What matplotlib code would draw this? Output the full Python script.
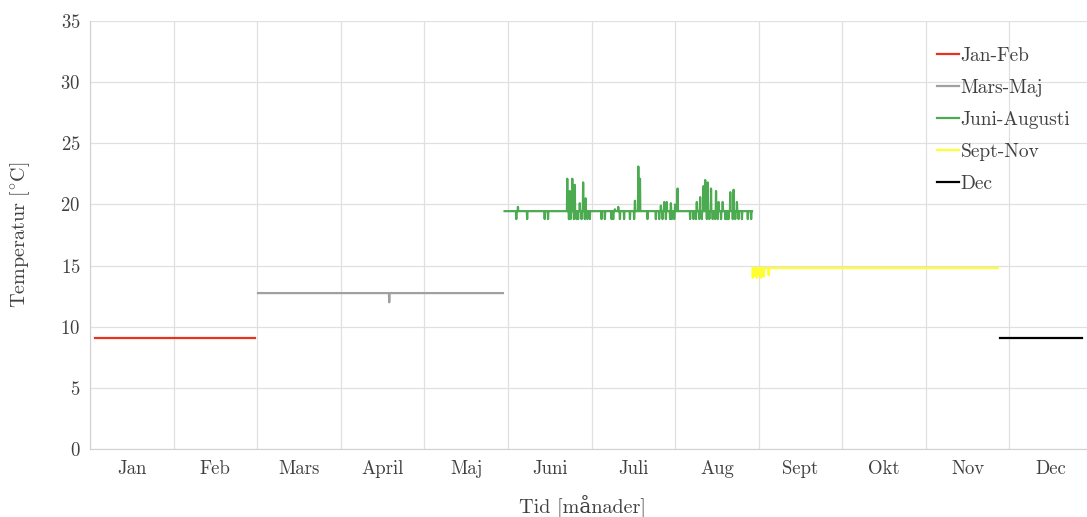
import numpy as np
import matplotlib
matplotlib.use('Agg')
import matplotlib.pyplot as plt

plt.rcParams['font.family'] = ['cmr10', 'DejaVu Serif']
plt.rcParams['mathtext.fontset'] = 'cm'
plt.rcParams['axes.formatter.use_mathtext'] = True

manader = ['Jan', 'Feb', 'Mars', 'April', 'Maj', 'Juni', 'Juli', 'Aug',
           'Sept', 'Okt', 'Nov', 'Dec']

# perioder: start/slut (i månader från 1 jan) och grundtemperatur
jan_feb = (0.06, 1.97, 9.1)
mars_maj = (2.01, 4.94, 12.75)
juni_aug = (4.96, 7.92, 19.45)
sept_nov = (7.93, 10.86, 14.8)
dec = (10.89, 11.87, 9.1)

# avvikelser (tidpunkt, temperatur)
mars_maj_t = [3.58]
mars_maj_v = [12.0]

juni_aug_t = [5.12, 5.71, 5.74, 5.77, 5.80, 5.86, 5.90, 5.93, 6.28, 6.32,
              6.52, 6.56, 6.58, 6.83, 6.87, 6.90, 6.95, 7.00, 7.03, 7.26,
              7.30, 7.34, 7.36, 7.39, 7.43, 7.49, 7.52, 7.57, 7.66, 7.70, 7.74]
juni_aug_v = [19.8, 22.1, 21.1, 22.1, 21.6, 20.1, 21.8, 20.5, 19.6, 19.8,
              20.3, 23.1, 22.1, 19.9, 20.2, 20.2, 20.1, 20.0, 21.3, 20.2,
              20.6, 21.5, 22.0, 21.8, 21.3, 21.1, 20.2, 20.2, 21.0, 21.2, 20.2]
juni_aug_dip_t = [5.10, 5.23, 5.44, 5.48, 5.73, 5.75, 5.79, 5.82, 5.84, 5.88,
                  5.92, 5.95, 5.98, 6.12, 6.16, 6.24, 6.26, 6.34, 6.39, 6.46,
                  6.51, 6.67, 6.77, 6.81, 6.85, 6.89, 6.94, 6.96, 6.99, 7.18,
                  7.22, 7.25, 7.29, 7.32, 7.38, 7.41, 7.45, 7.48, 7.51, 7.55,
                  7.60, 7.62, 7.64, 7.69, 7.72, 7.76, 7.80, 7.87, 7.91]
juni_aug_dip_v = [18.8] * len(juni_aug_dip_t)

sept_nov_t = [7.93, 7.96, 7.98, 8.00, 8.03, 8.06, 8.12]
sept_nov_v = [14.0, 14.1, 14.0, 14.2, 14.0, 14.1, 14.2]


def serie(period, t=(), v=()):
    start, slut, bas = period
    x = [start]
    y = [bas]
    for ti, vi in sorted(zip(t, v)):
        x += [ti - 0.004, ti, ti + 0.004]
        y += [bas, vi, bas]
    x.append(slut)
    y.append(bas)
    return x, y


fig = plt.figure(figsize=(10.87, 5.17), dpi=100)
ax = fig.add_axes([90 / 1087, 1 - 449 / 517, 1003 / 1087, 428 / 517])

x, y = serie(jan_feb)
ax.plot(x, y, color='#e8321e', lw=1.6, label='Jan-Feb')
x, y = serie(mars_maj, mars_maj_t, mars_maj_v)
ax.plot(x, y, color='#a0a0a0', lw=1.6, label='Mars-Maj')
x, y = serie(juni_aug, juni_aug_t + juni_aug_dip_t, juni_aug_v + juni_aug_dip_v)
ax.plot(x, y, color='#4caa50', lw=1.6, label='Juni-Augusti')
x, y = serie(sept_nov, sept_nov_t, sept_nov_v)
ax.plot(x, y, color='#ffff30', lw=1.6, label='Sept-Nov')
x, y = serie(dec)
ax.plot(x, y, color='black', lw=1.6, label='Dec')

ax.set_xlim(0, 12)
ax.set_ylim(0, 35)
ax.set_yticks(np.arange(0, 36, 5))
ax.set_xticks(np.arange(13), minor=False)
ax.set_xticklabels([''] * 13)
ax.set_xticks(np.arange(12) + 0.5, minor=True)
ax.set_xticklabels(manader, minor=True)
ax.tick_params(axis='both', which='both', length=0, labelsize=13.5, colors='#404040')
ax.tick_params(axis='x', which='minor', pad=8)
ax.tick_params(axis='y', pad=7)
ax.grid(True, which='major', color='#e0e0e0', lw=0.9)
ax.set_axisbelow(True)
for s in ['top', 'right']:
    ax.spines[s].set_visible(False)
for s in ['left', 'bottom']:
    ax.spines[s].set_color('#d0d0d0')

ax.set_xlabel('Tid [månader]', fontsize=14.5, color='#404040')
ax.set_ylabel(r'Temperatur [$^{\circ}$C]', fontsize=14.5, color='#404040', labelpad=20)
ax.xaxis.set_label_coords((582 - 90) / 1003, -(494 - 449) / 428)

leg = ax.legend(loc='upper right', bbox_to_anchor=(0.995, 0.98), frameon=False,
                fontsize=14, handlelength=1.1, handletextpad=0.1, labelspacing=0.72)
for t in leg.get_texts():
    t.set_color('#404040')

fig.savefig('out.png', dpi=100)
